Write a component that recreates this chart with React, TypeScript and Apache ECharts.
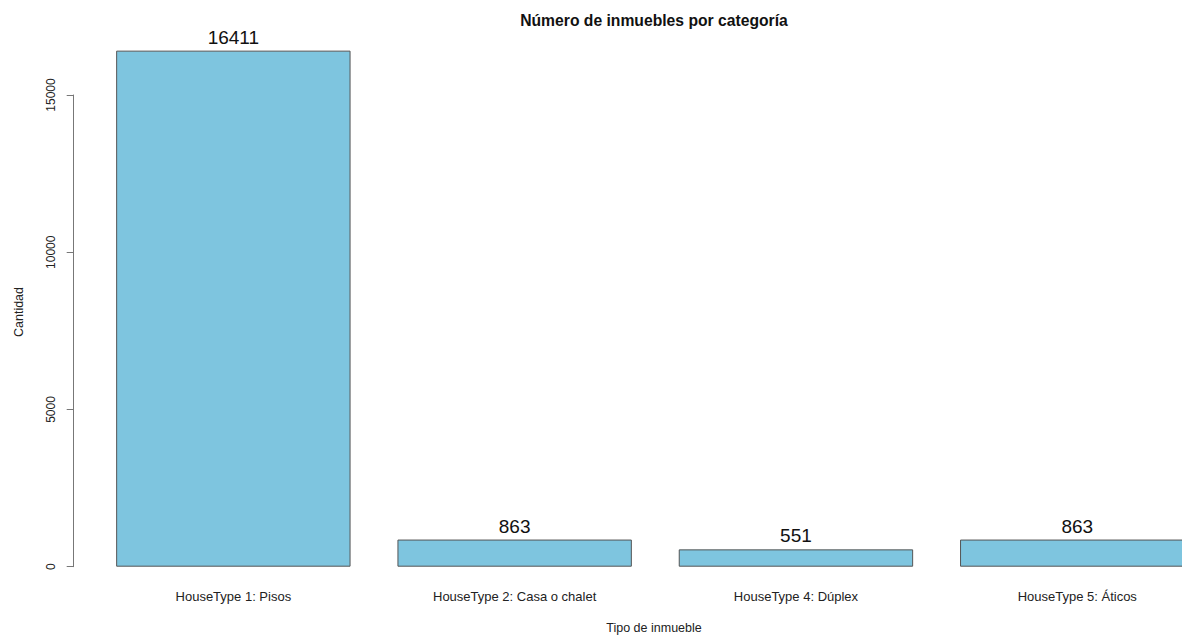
import React, { useEffect, useRef } from "react";
import * as echarts from "echarts";

const categories = [
  "HouseType 1: Pisos",
  "HouseType 2: Casa o chalet",
  "HouseType 4: Dúplex",
  "HouseType 5: Áticos",
];
const counts = [16411, 863, 551, 863];
const yTicks = { min: 0, max: 15000, interval: 5000 };
const titleText = "Número de inmuebles por categoría";
const xTitle = "Tipo de inmueble";
const yTitle = "Cantidad";

const FONT = "'Liberation Sans', Arial, sans-serif";

export default function App() {
  const ref = useRef<HTMLDivElement>(null);
  useEffect(() => {
    if (!ref.current) return;
    const chart = echarts.init(ref.current, undefined, { renderer: "svg" });
    chart.setOption({
      animation: false,
      backgroundColor: "#ffffff",
      textStyle: { fontFamily: FONT },
      grid: { left: 92.7, top: 95, width: 1125.2, bottom: 68.3, containLabel: false },
      xAxis: {
        type: "category",
        data: categories,
        axisLine: { show: false },
        axisTick: { show: false },
        axisLabel: { fontSize: 13, color: "#222", margin: 23, fontFamily: FONT, interval: 0 },
      },
      yAxis: {
        type: "value",
        min: yTicks.min,
        max: yTicks.max,
        interval: yTicks.interval,
        offset: 19,
        splitLine: { show: false },
        axisLine: { show: true, lineStyle: { color: "#777", width: 1 } },
        axisTick: { show: true, length: 7, lineStyle: { color: "#777", width: 1 } },
        axisLabel: {
          rotate: 90,
          fontSize: 12,
          color: "#222",
          margin: 17,
          fontFamily: FONT,
          formatter: (v: number) => String(v),
        },
      },
      series: [
        {
          type: "bar",
          data: counts,
          clip: false,
          barCategoryGap: "16.67%",
          itemStyle: { color: "#7EC5DF", borderColor: "#555", borderWidth: 1 },
          label: {
            show: true,
            position: "top",
            distance: 4,
            fontSize: 19,
            color: "#111",
            fontFamily: FONT,
          },
        },
      ],
      graphic: [
        {
          type: "text",
          x: 654,
          y: 20,
          style: {
            text: titleText,
            font: `bold 15.7px ${FONT}`,
            fill: "#111",
            textAlign: "center",
            textVerticalAlign: "middle",
          },
        },
        {
          type: "text",
          x: 654,
          y: 628,
          style: {
            text: xTitle,
            font: `12.5px ${FONT}`,
            fill: "#222",
            textAlign: "center",
            textVerticalAlign: "middle",
          },
        },
        {
          type: "text",
          x: 18.5,
          y: 312,
          rotation: Math.PI / 2,
          style: {
            text: yTitle,
            font: `12.5px ${FONT}`,
            fill: "#222",
            textAlign: "center",
            textVerticalAlign: "middle",
          },
        },
      ],
    });
    return () => chart.dispose();
  }, []);
  return (
    <div
      ref={ref}
      style={{ position: "fixed", left: 0, top: 0, width: 1240, height: 635, background: "#fff" }}
    />
  );
}
